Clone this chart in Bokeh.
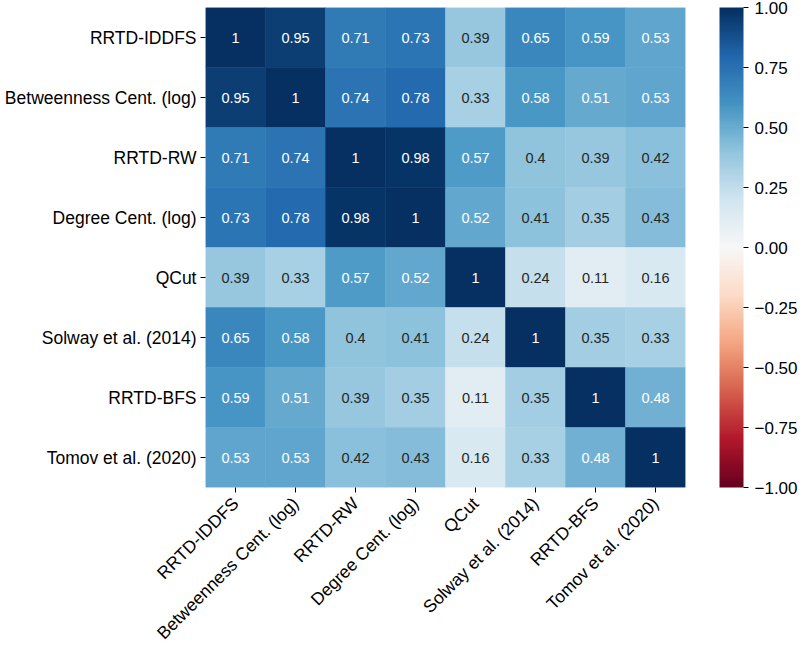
import numpy as np
from bokeh.plotting import figure
from bokeh.models import ColumnDataSource, LinearColorMapper, ColorBar, FixedTicker, CustomJSTickFormatter, FactorRange
from bokeh.transform import transform
from bokeh.core.properties import value
from bokeh.embed import file_html
from bokeh.resources import INLINE
from math import pi

labels = ["RRTD-IDDFS", "Betweenness Cent. (log)", "RRTD-RW", "Degree Cent. (log)",
          "QCut", "Solway et al. (2014)", "RRTD-BFS", "Tomov et al. (2020)"]

row_iddfs = [1, 0.95, 0.71, 0.73, 0.39, 0.65, 0.59, 0.53]
row_betw = [0.95, 1, 0.74, 0.78, 0.33, 0.58, 0.51, 0.53]
row_rw = [0.71, 0.74, 1, 0.98, 0.57, 0.4, 0.39, 0.42]
row_degree = [0.73, 0.78, 0.98, 1, 0.52, 0.41, 0.35, 0.43]
row_qcut = [0.39, 0.33, 0.57, 0.52, 1, 0.24, 0.11, 0.16]
row_solway = [0.65, 0.58, 0.4, 0.41, 0.24, 1, 0.35, 0.33]
row_bfs = [0.59, 0.51, 0.39, 0.35, 0.11, 0.35, 1, 0.48]
row_tomov = [0.53, 0.53, 0.42, 0.43, 0.16, 0.33, 0.48, 1]
rows = [row_iddfs, row_betw, row_rw, row_degree, row_qcut, row_solway, row_bfs, row_tomov]

cbar_ticks = [-1.0, -0.75, -0.5, -0.25, 0.0, 0.25, 0.5, 0.75, 1.0]

# RdBu colormap (ColorBrewer 11 anchors), interpolated to 256 steps
anchors = ['#67001f', '#b2182b', '#d6604d', '#f4a582', '#fddbc7', '#f7f7f7',
           '#d1e5f0', '#92c5de', '#4393c3', '#2166ac', '#053061']
def hex2rgb(h):
    return [int(h[i:i+2], 16) for i in (1, 3, 5)]
arr = np.array([hex2rgb(h) for h in anchors], dtype=float)
pos = np.linspace(0, 1, len(anchors))
t = np.linspace(0, 1, 256)
palette = []
for tv in t:
    c = [np.interp(tv, pos, arr[:, k]) for k in range(3)]
    palette.append('#%02x%02x%02x' % tuple(int(round(v)) for v in c))

xs, ys, vals, txt, tcol = [], [], [], [], []
for i, r in enumerate(rows):
    for j, v in enumerate(r):
        xs.append(labels[j])
        ys.append(labels[i])
        vals.append(v)
        txt.append(('%.2g' % v) if v != 1 else '1')
        tcol.append('white' if v >= 0.45 else '#262626')

src = ColumnDataSource(dict(x=xs, y=ys, v=vals, t=txt, c=tcol))
mapper = LinearColorMapper(palette=palette, low=-1, high=1)

p = figure(width=800, height=640, x_range=FactorRange(factors=labels),
           y_range=FactorRange(factors=list(reversed(labels))),
           output_backend="svg", toolbar_location=None,
           min_border_left=205, min_border_top=7, min_border_bottom=153, min_border_right=115)
p.frame_width = 480
p.frame_height = 480
p.rect(x='x', y='y', width=1, height=1, source=src,
       fill_color=transform('v', mapper), line_color=transform('v', mapper), line_width=0.5)
p.text(x='x', y='y', text='t', source=src, text_color='c', text_align='center',
       text_baseline='middle', text_font=value("Liberation Sans"), text_font_size='14.5px')

p.grid.visible = False
p.outline_line_color = None
for ax in (p.xaxis, p.yaxis):
    ax.axis_line_color = None
    ax.major_tick_in = 0
    ax.major_tick_out = 5
    ax.major_tick_line_color = 'black'
    ax.major_label_text_font = 'Liberation Sans'
    ax.major_label_text_font_size = '17.5px'
    ax.major_label_text_color = 'black'
    ax.major_label_standoff = 4
p.xaxis.major_label_orientation = pi / 4
p.xaxis.major_label_standoff = 8

cb = ColorBar(color_mapper=mapper, ticker=FixedTicker(ticks=cbar_ticks),
              formatter=CustomJSTickFormatter(code="return (tick < 0 ? '\u2212' : '') + Math.abs(tick).toFixed(2);"),
              width=24, height=480, padding=0, location=(514, 0), major_tick_in=0, major_tick_out=5,
              major_tick_line_color='black', minor_tick_line_color=None,
              background_fill_color=None,
              major_label_text_font='Liberation Sans', major_label_text_font_size='17px',
              major_label_text_color='black', label_standoff=6)
p.add_layout(cb, 'center')

open("out.html", "w").write(file_html(p, INLINE))
